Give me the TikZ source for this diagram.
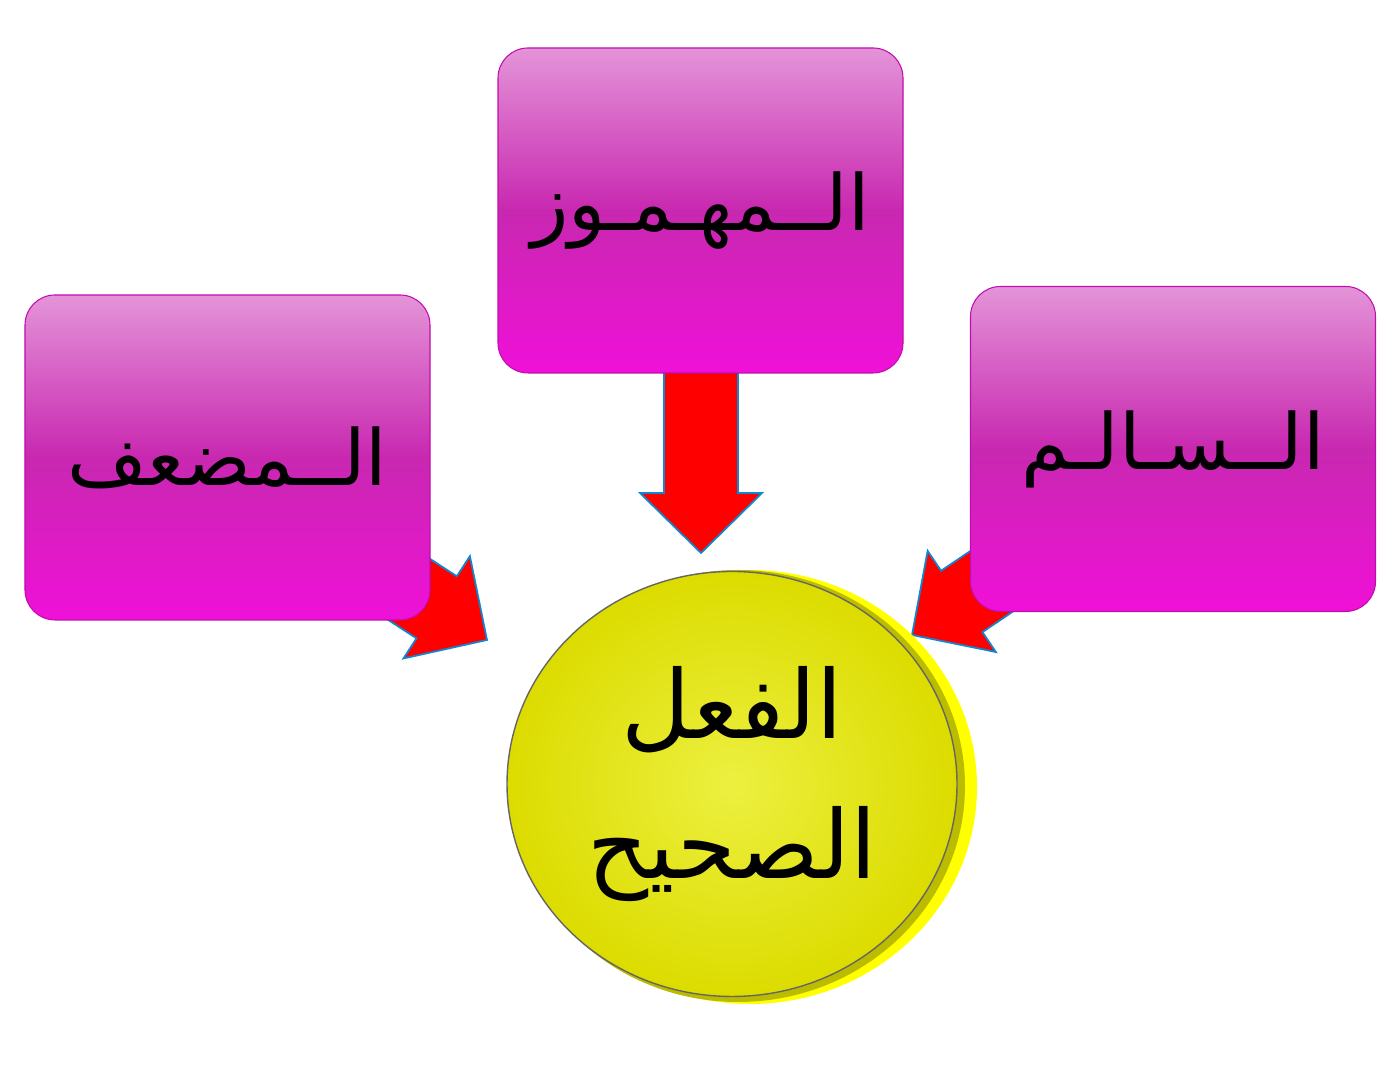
\documentclass[tikz,border=0pt]{standalone}
\usepackage{fontspec}
\newfontfamily\arabicfont[Script=Arabic]{DejaVu Sans}
\TeXXeTstate=1
\usetikzlibrary{shapes.geometric}
\definecolor{boxtop}{HTML}{E494D8}
\definecolor{boxbot}{HTML}{F010D8}
\definecolor{boxmid}{HTML}{C828B0}
\definecolor{ballin}{HTML}{E8EC10}
\definecolor{ballout}{HTML}{DCDC00}
\definecolor{ballrim}{HTML}{FFFF00}
\definecolor{arrowred}{HTML}{FF0000}
\tikzset{
  magbox/.style={rectangle, rounded corners=0.3cm, minimum width=4.05cm, minimum height=3.25cm,
    inner sep=0pt, top color=boxtop, bottom color=boxbot, middle color=boxmid,
    draw=boxbot!80!black, line width=0.3pt, font=\arabicfont\fontsize{22}{26}\selectfont},
  blockarrow/.pic={
    \filldraw[fill=arrowred, draw=cyan!70!blue, line width=0.5pt]
      (-2.0,-0.37) -- (-0.6,-0.37) -- (-0.6,-0.61) -- (0,0) -- (-0.6,0.61)
      -- (-0.6,0.37) -- (-2.0,0.37) -- cycle;}
}
\begin{document}
\begin{tikzpicture}
\useasboundingbox (0,0) rectangle (14,10.92);
% arrows behind the boxes
\pic[rotate=-90] at (7.01,5.39) {blockarrow};
\pic[rotate=-33] at (4.87,4.52) {blockarrow};
\pic[rotate=-146] at (9.12,4.57) {blockarrow};
% circle
\fill[ballrim] (7.50,3.05) ellipse (2.27cm and 2.17cm);
\fill[ballout!85!black] (7.38,3.06) ellipse (2.27cm and 2.16cm);
\node (ball) [ellipse, inner sep=0pt, minimum width=4.50cm, minimum height=4.25cm,
  inner color=ballin!80!white, outer color=ballout, draw=black!60, line width=0.4pt,
  font=\arabicfont\fontsize{27}{40}\selectfont, align=center] at (7.32,3.08)
  {\beginR الفعل\endR\\\beginR الصحيح\endR};
% boxes
\node (mahmouz) [magbox] at (7.005,8.815) {\beginR الــمهـمـوز\endR};
\node (mudaaf) [magbox] at (2.275,6.345) {\beginR الــمضعف\endR};
\node (salim) [magbox] at (11.73,6.43) {\beginR الــسـالـم\endR};
\end{tikzpicture}
\end{document}
